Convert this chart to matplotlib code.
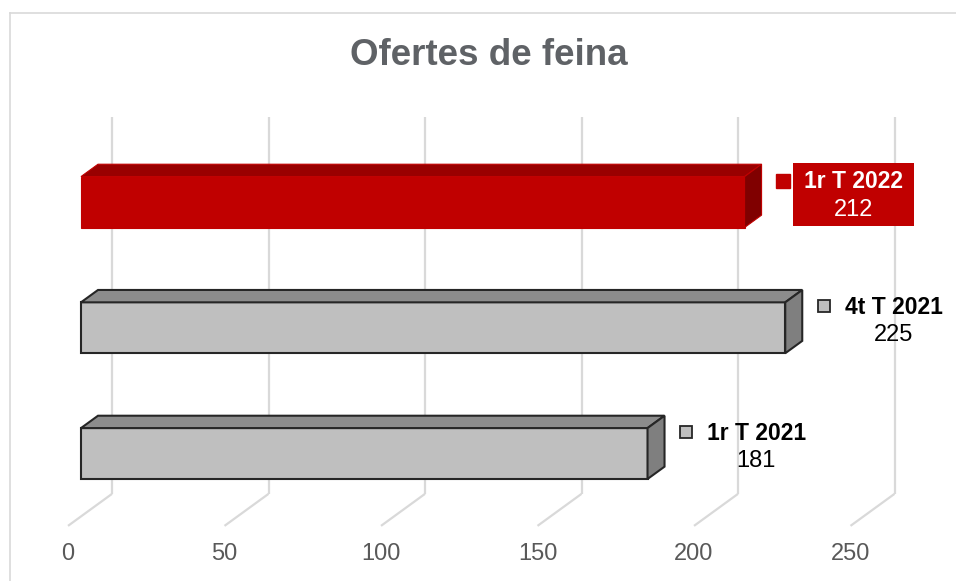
import numpy as np
import matplotlib.pyplot as plt
from matplotlib.lines import Line2D
from matplotlib.patches import Rectangle

plt.rcParams['font.family'] = ['Liberation Sans', 'DejaVu Sans']

# data (bottom to top)
periods = ['1r T 2021', '4t T 2021', '1r T 2022']
offers = [181, 225, 212]
ticks = [0, 50, 100, 150, 200, 250]

front_cols = ['#BFBFBF', '#BFBFBF', '#C00000']
top_cols = ['#8C8C8C', '#8C8C8C', '#990000']
side_cols = ['#7F7F7F', '#7F7F7F', '#800000']
edge_cols = ['#262626', '#262626', '#C00000']

# fake 3d: depth offsets in data units
DX = 44 / 3.13
DY = 32 / 125.75
d0, d1 = 13 / 44, 30 / 44
H = 0.405


def proj(x, y, d):
    return x + d * DX, y + d * DY


fig = plt.figure(figsize=(9.56, 5.81), dpi=100)
ax = fig.add_axes([0, 0, 1, 1])
ax.set_xlim(-68 / 3.13, (956 - 68) / 3.13)
ax.set_ylim((463 - 581) / 125.75, 463 / 125.75)
ax.axis('off')

# back wall gridlines + floor lines
grid_c = '#D9D9D9'
for t in ticks:
    xb, yb = proj(t, -0.5, 1)
    xt, yt = proj(t, 2.5, 1)
    xf, yf = proj(t, -0.5, 0)
    ax.plot([xb, xt], [yb, yt], color=grid_c, lw=1.6, zorder=1, solid_capstyle='butt')
    ax.plot([xf, xb], [yf, yb], color=grid_c, lw=1.6, zorder=1, solid_capstyle='butt')
    ax.text(t, -0.5 - 0.223, str(t), ha='center', va='center',
            fontsize=17, color='#595959')

# bars
for i, (lab, v) in enumerate(zip(periods, offers)):
    x0, yc = proj(0, i, d0)
    lw = 1.5 if i < 2 else 0.8
    ax.barh(yc, v, height=H, left=x0, color=front_cols[i],
            edgecolor=edge_cols[i], lw=lw, zorder=3)
    yt = yc + H / 2
    yb = yc - H / 2
    bx, by = proj(0, i, d1)
    # top face
    top = [(x0, yt), (x0 + v, yt), (bx + v, by + H / 2), (bx, by + H / 2)]
    ax.fill(*zip(*top), facecolor=top_cols[i], edgecolor=edge_cols[i], lw=lw, zorder=3)
    # side face
    side = [(x0 + v, yb), (x0 + v, yt), (bx + v, by + H / 2), (bx + v, by - H / 2)]
    ax.fill(*zip(*side), facecolor=side_cols[i], edgecolor=edge_cols[i], lw=lw, zorder=3)

    # data labels
    lx = v + 16.5
    ly = yc + 0.17
    if i == 2:
        ax.add_patch(Rectangle((lx + 10 / 3.13, ly - 45 / 125.75), 121 / 3.13, 63 / 125.75,
                               facecolor='#C00000', edgecolor='none', zorder=4))
        ax.plot(lx, ly, marker='s', ms=9.5, color='#C00000', mec='#C00000', zorder=5)
        tc = 'white'
    else:
        ax.plot(lx, ly, marker='s', ms=8, color='#BFBFBF', mec='#262626', mew=1.3, zorder=5)
        tc = 'black'
    ax.annotate(lab, (lx, ly), xytext=(70, -1), textcoords='offset pixels',
                ha='center', va='center', fontsize=16.5, fontweight='bold', color=tc, zorder=6)
    ax.annotate(str(v), (lx, ly), xytext=(70, -29), textcoords='offset pixels',
                ha='center', va='center', fontsize=17, color=tc, zorder=6)

fig.text(489 / 956, 1 - 65 / 581, 'Ofertes de feina', ha='center', va='baseline',
         fontsize=26.5, fontweight='bold', color='#5F6266')

# chart border (top and left only visible)
fig.add_artist(Line2D([10 / 956, 10 / 956], [0, 1 - 13 / 581], color='#D9D9D9', lw=1.2))
fig.add_artist(Line2D([10 / 956, 1], [1 - 13 / 581, 1 - 13 / 581], color='#D9D9D9', lw=1.2))

fig.savefig('out.png', dpi=100)
